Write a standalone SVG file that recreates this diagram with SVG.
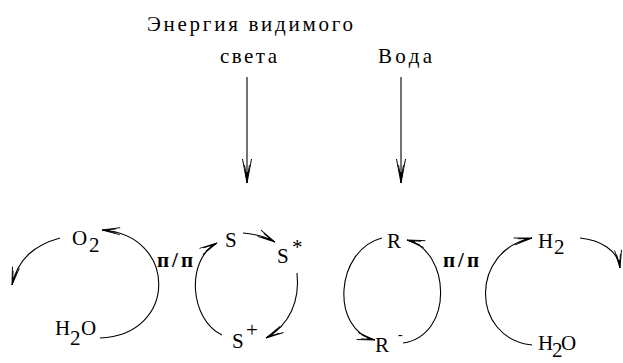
<svg xmlns="http://www.w3.org/2000/svg" width="623" height="363" viewBox="0 0 623 363">
<g id="label-light">
<text font-family="Liberation Serif" font-size="21" x="147" y="31" textLength="206">Энергия видимого</text>
<text font-family="Liberation Serif" font-size="21" x="220" y="63" textLength="57">света</text>
</g>
<g id="label-water"><text font-family="Liberation Serif" font-size="21" x="378" y="63" textLength="54">Вода</text></g>

<g id="node-O2"><text font-family="Liberation Serif" font-size="21" x="72" y="245">O</text><text font-family="Liberation Serif" font-size="21" x="89" y="252">2</text></g>
<g id="node-H2O-left"><text font-family="Liberation Serif" font-size="21" x="55" y="335">H</text><text font-family="Liberation Serif" font-size="21" x="70" y="345">2</text><text font-family="Liberation Serif" font-size="21" x="81" y="335">O</text></g>
<g id="label-pp-left"><text font-family="Liberation Serif" font-size="21" font-weight="bold" x="157" y="267" textLength="36">п/п</text></g>
<g id="node-S"><text font-family="Liberation Serif" font-size="21" x="225" y="247">S</text></g>
<g id="node-S-star"><text font-family="Liberation Serif" font-size="21" x="277" y="263">S</text><text font-family="Liberation Serif" font-size="21" x="292" y="254">*</text></g>
<g id="node-S-plus"><text font-family="Liberation Serif" font-size="21" x="232" y="348">S</text><text font-family="Liberation Serif" font-size="21" x="246" y="337">+</text></g>
<g id="node-R"><text font-family="Liberation Serif" font-size="21" x="387" y="248">R</text></g>
<g id="node-R-minus"><text font-family="Liberation Serif" font-size="21" x="375" y="352">R</text><text font-family="Liberation Serif" font-size="14" x="398" y="339">-</text></g>
<g id="label-pp-right"><text font-family="Liberation Serif" font-size="21" font-weight="bold" x="443" y="267" textLength="36">п/п</text></g>
<g id="node-H2"><text font-family="Liberation Serif" font-size="21" x="538" y="248">H</text><text font-family="Liberation Serif" font-size="21" x="554" y="254">2</text></g>
<g id="node-H2O-right"><text font-family="Liberation Serif" font-size="21" x="538" y="350">H</text><text font-family="Liberation Serif" font-size="21" x="552" y="357">2</text><text font-family="Liberation Serif" font-size="21" x="561" y="350">O</text></g>

<g id="connectors" fill="none" stroke="#000" stroke-width="1.1">
<path d="M247,77 L247,183"/>
<path d="M401,77 L401,183"/>
<path d="M100,338 C178,335 178,235 102,230"/>
<path d="M60,238 C35,245 18,258 12,285"/>
<path d="M243,233 C255,234 266,237 275,242"/>
<path d="M297,273 C300,300 290,325 266,338"/>
<path d="M222,335 C190,320 185,260 217,243"/>
<path d="M382,238 C335,250 330,330 375,340"/>
<path d="M403,343 C455,335 450,250 407,240"/>
<path d="M532,345 C470,338 470,250 532,238"/>
<path d="M580,238 C600,240 618,250 620,268"/>
<g id="heads-large" stroke-width="1">
<g transform="translate(247,183) rotate(90)"><path d="M0,0 L-24,-4.5 M0,0 L-24,4.5 M-3,0 L-18,-2.5 M-3,0 L-18,2.5"/><path d="M0.5,0 L-11,-1.8 L-11,1.8 Z" fill="#000" stroke="none"/></g>
<g transform="translate(401,183) rotate(90)"><path d="M0,0 L-24,-4.5 M0,0 L-24,4.5 M-3,0 L-18,-2.5 M-3,0 L-18,2.5"/><path d="M0.5,0 L-11,-1.8 L-11,1.8 Z" fill="#000" stroke="none"/></g>
</g>
<g id="heads-small" stroke-width="0.9">
<g transform="translate(102,230) rotate(183.8)"><path d="M0,0 L-18,-3.5 M0,0 L-18,3.5 M-3,0 L-14,-2 M-3,0 L-14,2"/><path d="M0.5,0 L-8,-1.4 L-8,1.4 Z" fill="#000" stroke="none"/></g>
<g transform="translate(12,285) rotate(102.5)"><path d="M0,0 L-18,-3.5 M0,0 L-18,3.5 M-3,0 L-14,-2 M-3,0 L-14,2"/><path d="M0.5,0 L-8,-1.4 L-8,1.4 Z" fill="#000" stroke="none"/></g>
<g transform="translate(275,242) rotate(29.1)"><path d="M0,0 L-18,-3.5 M0,0 L-18,3.5 M-3,0 L-14,-2 M-3,0 L-14,2"/><path d="M0.5,0 L-8,-1.4 L-8,1.4 Z" fill="#000" stroke="none"/></g>
<g transform="translate(266,338) rotate(151.6)"><path d="M0,0 L-18,-3.5 M0,0 L-18,3.5 M-3,0 L-14,-2 M-3,0 L-14,2"/><path d="M0.5,0 L-8,-1.4 L-8,1.4 Z" fill="#000" stroke="none"/></g>
<g transform="translate(217,243) rotate(-28)"><path d="M0,0 L-18,-3.5 M0,0 L-18,3.5 M-3,0 L-14,-2 M-3,0 L-14,2"/><path d="M0.5,0 L-8,-1.4 L-8,1.4 Z" fill="#000" stroke="none"/></g>
<g transform="translate(375,340) rotate(12.5)"><path d="M0,0 L-18,-3.5 M0,0 L-18,3.5 M-3,0 L-14,-2 M-3,0 L-14,2"/><path d="M0.5,0 L-8,-1.4 L-8,1.4 Z" fill="#000" stroke="none"/></g>
<g transform="translate(407,240) rotate(193.1)"><path d="M0,0 L-18,-3.5 M0,0 L-18,3.5 M-3,0 L-14,-2 M-3,0 L-14,2"/><path d="M0.5,0 L-8,-1.4 L-8,1.4 Z" fill="#000" stroke="none"/></g>
<g transform="translate(532,238) rotate(-11)"><path d="M0,0 L-18,-3.5 M0,0 L-18,3.5 M-3,0 L-14,-2 M-3,0 L-14,2"/><path d="M0.5,0 L-8,-1.4 L-8,1.4 Z" fill="#000" stroke="none"/></g>
<g transform="translate(620,268) rotate(83.7)"><path d="M0,0 L-18,-3.5 M0,0 L-18,3.5 M-3,0 L-14,-2 M-3,0 L-14,2"/><path d="M0.5,0 L-8,-1.4 L-8,1.4 Z" fill="#000" stroke="none"/></g>
</g>
</g>
</svg>
